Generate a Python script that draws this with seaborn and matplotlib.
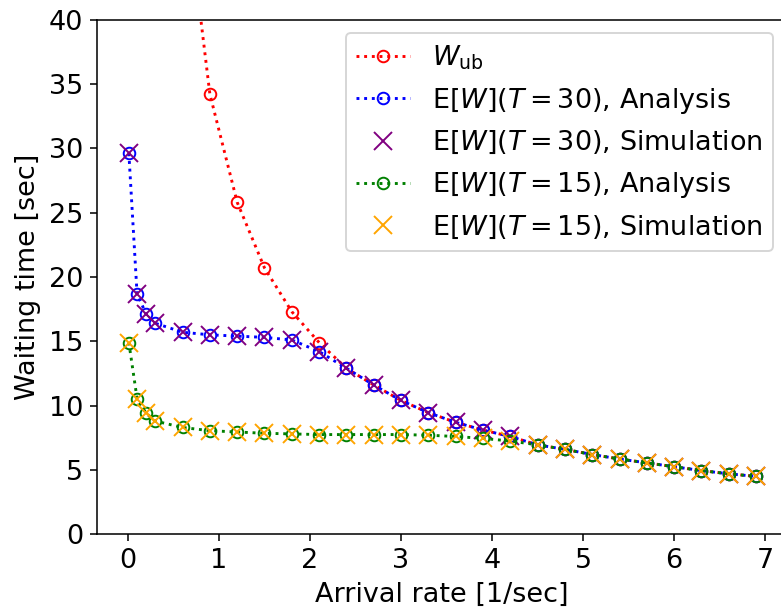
import numpy as np
import pandas as pd
import matplotlib
matplotlib.use("Agg")
import matplotlib.pyplot as plt
import seaborn as sns

# -----------------------------
# Data
# -----------------------------
arrival = [0.01, 0.1, 0.2, 0.3, 0.6, 0.9, 1.2, 1.5, 1.8, 2.1, 2.4, 2.7, 3.0,
           3.3, 3.6, 3.9, 4.2, 4.5, 4.8, 5.1, 5.4, 5.7, 6.0, 6.3, 6.6, 6.9]

w_ub = [3100.0, 310.0, 155.0, 103.0, 51.7, 34.2, 25.8, 20.7, 17.3, 14.9, 12.9,
        11.6, 10.4, 9.45, 8.7, 8.1, 7.6, 6.95, 6.6, 6.2, 5.85, 5.55, 5.25, 4.95,
        4.7, 4.5]

ew_t30 = [29.6, 18.7, 17.1, 16.4, 15.7, 15.5, 15.4, 15.3, 15.1, 14.2, 12.9,
          11.6, 10.4, 9.45, 8.7, 8.1, 7.6, 6.95, 6.6, 6.2, 5.85, 5.55, 5.25,
          4.95, 4.7, 4.5]

ew_t15 = [14.9, 10.55, 9.4, 8.8, 8.3, 8.05, 7.95, 7.85, 7.8, 7.75, 7.75, 7.75,
          7.75, 7.7, 7.6, 7.45, 7.25, 6.95, 6.6, 6.2, 5.85, 5.55, 5.25, 4.95,
          4.7, 4.5]

df = pd.DataFrame({"rate": arrival, "wub": w_ub, "t30": ew_t30, "t15": ew_t15})

# -----------------------------
# Figure (plain matplotlib look, high dpi)
# -----------------------------
plt.rcParams["font.family"] = ["DejaVu Sans"]
plt.rcParams["font.size"] = 14

dpi = 139
fig = plt.figure(figsize=(781 / dpi, 610 / dpi), dpi=dpi)
ax = fig.add_axes([0.1242, 0.1241, 0.8835, 0.8439])


def analysis(col, color, label):
    sns.lineplot(data=df, x="rate", y=col, ax=ax, sort=False, errorbar=None,
                 color=color, linestyle=":", linewidth=1.5,
                 marker="o", markersize=6, markerfacecolor="none",
                 markeredgecolor=color, markeredgewidth=1.0, label=label)


def simulation(col, color, label):
    sns.lineplot(data=df, x="rate", y=col, ax=ax, sort=False, errorbar=None,
                 color=color, linestyle="none", marker="x", markersize=9,
                 markeredgecolor=color, markeredgewidth=1.0, label=label)


analysis("wub", "red", r"$W_{\rm ub}$")
analysis("t30", "blue", r"E$[W](T=30)$, Analysis")
simulation("t30", "purple", r"E$[W](T=30)$, Simulation")
analysis("t15", "green", r"E$[W](T=15)$, Analysis")
simulation("t15", "orange", r"E$[W](T=15)$, Simulation")

ax.set_xlim(-0.34, 7.24)
ax.set_ylim(0, 40)
ax.set_xticks(range(0, 8))
ax.set_yticks(range(0, 41, 5))
ax.set_xlabel("Arrival rate [1/sec]")
ax.set_ylabel("Waiting time [sec]")
ax.legend(loc="upper right")

plt.savefig("out.png", dpi=dpi)
